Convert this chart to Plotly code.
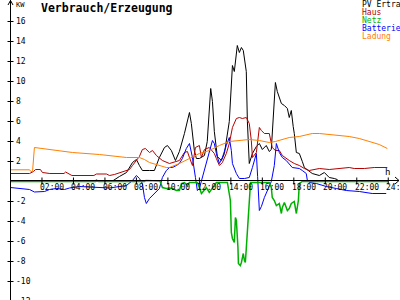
import plotly.graph_objects as go

# ---------------- data (hours of day, kW) ----------------
pv_t = [0.00, 6.29, 6.48, 6.92, 7.37, 7.75, 8.00, 8.19, 8.38, 8.83, 9.14, 9.46, 9.78, 9.97, 10.22, 10.48,
        10.73, 11.05, 11.24, 11.37, 11.49, 11.56, 11.68, 11.81, 12.00, 12.32, 12.50, 12.72, 12.83, 12.95,
        13.14, 13.40, 13.59, 13.90, 14.03, 14.10, 14.22, 14.41, 14.54, 14.67, 14.79, 14.98, 15.05, 15.17,
        15.37, 15.62, 15.81, 16.00, 16.25, 16.44, 16.57, 16.70, 16.83, 16.95, 17.08, 17.21, 17.40, 17.59,
        17.71, 17.84, 17.96, 18.03, 18.16, 18.35, 18.54, 18.67, 19.17, 19.62, 19.94, 20.25, 20.57, 20.76, 20.80]
pv_v = [0.0, 0.0, 0.05, 0.5, 0.9, 1.9, 2.2, 1.6, 1.1, 1.1, 1.1, 2.4, 3.4, 3.6, 3.1, 2.1,
        3.0, 4.8, 6.1, 6.9, 5.8, 4.8, 3.1, 2.3, 2.3, 2.6, 4.0, 9.3, 8.0, 5.0,
        2.5, 2.1, 2.8, 6.0, 9.0, 11.6, 11.0, 13.6, 12.9, 13.4, 13.1, 11.0, 6.0, 1.8,
        2.8, 3.5, 3.8, 3.2, 3.6, 3.0, 3.2, 7.0, 9.9, 9.0, 8.4, 7.8, 7.6, 7.3,
        6.4, 7.1, 5.5, 4.8, 2.9, 2.8, 2.0, 1.4, 0.8, 0.6, 0.9, 0.4, 0.3, 0.2, 0.0]

haus_t = [0.00, 1.21, 1.46, 1.59, 1.90, 2.03, 2.50, 3.40, 3.50, 3.65, 3.90, 5.30, 5.46, 6.10, 6.29, 6.60,
          7.10, 7.56, 7.75, 8.19, 8.38, 8.57, 8.83, 9.02, 9.27, 9.65, 10.10, 10.73, 11.05, 11.24, 11.37,
          11.56, 11.75, 12.00, 12.13, 12.32, 12.63, 12.95, 13.08, 13.27, 13.46, 13.71, 13.90, 14.10, 14.35,
          14.54, 14.73, 14.98, 15.17, 15.30, 15.37, 15.62, 15.81, 15.94, 16.13, 16.44, 16.63, 16.83, 17.08,
          17.27, 17.71, 18.03, 18.35, 18.67, 18.98, 19.62, 20.25, 20.89, 21.52, 21.84, 22.48, 23.11, 23.94]
haus_v = [0.8, 0.8, 1.0, 1.2, 1.2, 0.9, 0.8, 0.8, 0.95, 0.8, 0.6, 0.6, 0.75, 0.75, 0.6, 0.7,
          1.0, 1.2, 1.6, 2.5, 3.2, 3.3, 2.9, 3.1, 2.6, 2.1, 1.8, 2.1, 2.9, 3.0, 2.4,
          1.6, 3.4, 3.6, 2.4, 3.2, 3.4, 2.8, 2.3, 1.6, 1.9, 2.8, 3.8, 5.4, 6.3,
          6.4, 6.3, 6.4, 5.8, 4.1, 2.4, 2.9, 5.4, 5.1, 4.8, 4.8, 3.4, 3.1, 3.1,
          2.6, 2.1, 1.8, 1.6, 1.3, 1.1, 1.3, 1.2, 1.3, 1.4, 1.3, 1.3, 1.4, 1.4]

netz_t = [0.00, 5.40, 5.46, 5.60, 8.50, 8.60, 9.50, 9.65, 9.90, 10.10, 10.29, 10.54, 10.73, 10.86, 11.05,
          11.24, 11.37, 11.87, 12.00, 12.13, 12.19, 12.44, 12.63, 12.76, 12.95, 13.08, 13.78, 13.86, 13.97,
          14.03, 14.10, 14.22, 14.29, 14.35, 14.41, 14.45, 14.48, 14.60, 14.67, 14.73, 14.79, 14.86, 14.92,
          14.98, 15.05, 15.11, 15.17, 15.25, 16.44, 16.57, 16.63, 16.76, 16.89, 17.08, 17.21, 17.27, 17.40,
          17.52, 17.59, 17.71, 17.84, 18.03, 18.10, 18.16, 18.22, 18.29, 18.35, 18.54, 24.00]
netz_v = [0.0, 0.0, 0.15, 0.0, 0.0, 0.1, 0.05, -0.6, -0.7, -0.65, -0.7, -0.9, -0.9, -0.2, -0.1,
          -0.4, -0.1, -0.1, -0.6, -1.2, -1.1, -0.6, -1.1, -0.8, -0.4, -0.1, -0.1, -0.9, -1.9,
          -5.1, -5.7, -6.1, -3.6, -3.9, -5.2, -6.6, -8.2, -8.4, -8.1, -7.4, -7.2, -7.9, -8.1,
          -6.7, -5.2, -4.1, -1.9, -0.1, -0.1, -0.6, -1.6, -1.9, -2.4, -2.2, -3.2, -2.6, -2.1,
          -2.6, -2.9, -2.7, -2.2, -2.0, -2.9, -3.2, -2.6, -1.9, -0.2, 0.0, 0.0]

batt_t = [0.00, 0.57, 1.21, 1.52, 2.16, 2.48, 2.92, 3.43, 3.75, 4.38, 5.65, 6.29, 6.92, 7.37, 7.75, 8.00,
          8.19, 8.38, 8.51, 8.63, 8.83, 9.14, 9.46, 9.65, 9.90, 10.10, 10.29, 10.54, 10.73, 10.92, 11.17,
          11.37, 11.56, 11.75, 11.87, 12.00, 12.19, 12.44, 12.63, 12.83, 12.95, 13.08, 13.27, 13.46, 13.71,
          13.90, 14.03, 14.10, 14.35, 14.54, 14.86, 15.17, 15.37, 15.62, 15.70, 15.81, 15.94, 16.13, 16.57,
          16.76, 16.89, 17.08, 17.27, 17.52, 17.90, 18.35, 18.54, 18.79, 18.86, 18.98, 19.43, 20.06, 20.70,
          21.33, 22.16, 22.98, 23.87]
batt_v = [-0.6, -0.7, -0.8, -1.05, -1.0, -0.8, -0.7, -0.8, -0.65, -0.5, -0.6, -0.65, -0.5, -0.4, 0.1, 0.6,
          0.3, -0.2, -1.6, -2.2, -1.7, -1.2, -0.7, 0.4, 1.1, 1.4, 1.4, 1.6, 1.8, 2.3, 3.3,
          3.8, 2.4, 0.4, -0.9, -0.7, 0.4, 1.9, 3.1, 4.1, 3.8, 2.8, 1.8, 2.4, 3.6,
          4.4, 3.1, 1.8, 0.8, 0.3, 0.3, 0.4, 1.4, 2.8, 0.5, -2.9, -2.5, -1.6, 0.0,
          1.6, 3.8, 2.9, 2.4, 2.1, 1.4, 1.3, 1.1, 0.8, 0.1, -0.1, -0.2, -0.5, -0.7,
          -0.9, -1.0, -1.2, -1.2]

ladung_t = [0.00, 1.21, 1.30, 1.40, 1.52, 2.48, 3.94, 5.65, 7.37, 8.19, 8.51, 8.83, 9.46, 9.90, 10.10,
            10.73, 11.37, 12.00, 12.63, 13.27, 13.90, 14.54, 15.17, 15.81, 16.44, 16.83, 17.08, 17.71,
            18.35, 19.17, 19.62, 20.25, 20.89, 21.52, 22.16, 22.79, 23.43, 23.94]
ladung_v = [1.17, 1.17, 1.0, 1.0, 3.4, 3.2, 2.9, 2.7, 2.4, 2.4, 2.2, 1.9, 1.6, 1.4, 1.4,
            1.8, 2.3, 2.8, 3.1, 3.6, 4.0, 4.1, 4.2, 4.1, 3.9, 4.0, 4.1, 4.4,
            4.5, 4.8, 4.8, 4.7, 4.6, 4.5, 4.3, 4.0, 3.7, 3.3]

series_names = ["PV Ertra", "Haus", "Netz", "Batterie", "Ladung"]
series_colors = ["#000000", "#b40000", "#00b000", "#0000ff", "#ff8000"]
series_widths = [1, 1, 1.5, 1, 1]

x_tick_vals = [2, 4, 6, 8, 10, 12, 14, 16, 18, 20, 22, 24]
x_tick_text = ["02:00", "04:00", "06:00", "08:00", "10:00", "12:00", "14:00", "16:00", "18:00",
               "20:00", "22:00", "24:00"]
y_tick_vals = [16, 14, 12, 10, 8, 6, 4, 2, -2, -4, -6, -8, -10, -12]
title_text = "Verbrauch/Erzeugung"
y_unit = "KW"
x_unit = "h"

# ---------------- layout geometry ----------------
W, H = 400, 300
X0_PX, X_SCALE = 10.5, 15.74      # pixel of hour 0, px per hour
Y0_PX, Y_SCALE = 181.5, 10.0      # pixel of 0 kW, px per kW
x_range = [(0 - X0_PX) / X_SCALE, (W - X0_PX) / X_SCALE]
y_range = [(Y0_PX - H) / Y_SCALE, (Y0_PX - 0) / Y_SCALE]

def hx(px):  # pixel -> hours
    return (px - X0_PX) / X_SCALE

def vy(py):  # pixel -> kW
    return (Y0_PX - py) / Y_SCALE

fig = go.Figure()
data = {0: (pv_t, pv_v), 1: (haus_t, haus_v), 2: (netz_t, netz_v), 3: (batt_t, batt_v), 4: (ladung_t, ladung_v)}
for k in [0, 1, 3, 4, 2]:
    t, v = data[k]
    fig.add_trace(go.Scatter(x=t, y=v, mode="lines", name=series_names[k],
                             line=dict(color=series_colors[k], width=series_widths[k], shape="linear"),
                             hoverinfo="skip"))

shapes = []
line_style = dict(color="#000000", width=1)
shapes.append(dict(type="line", xref="x", yref="y", x0=0, x1=0, y0=y_range[0], y1=y_range[1], line=line_style))
shapes.append(dict(type="line", xref="x", yref="y", x0=0, x1=hx(399), y0=vy(180.5), y1=vy(180.5), line=line_style))
shapes.append(dict(type="path", xref="x", yref="y",
                   path=f"M {hx(8)},{vy(5)} L 0,{vy(0.5)} L {hx(13)},{vy(5)}", line=line_style))
shapes.append(dict(type="path", xref="x", yref="y",
                   path=f"M {hx(395)},{vy(177)} L {hx(399)},{vy(180.5)} L {hx(395)},{vy(184)}", line=line_style))
for tv in y_tick_vals:
    shapes.append(dict(type="line", xref="x", yref="y", x0=hx(7.5), x1=hx(13.5), y0=tv, y1=tv, line=line_style))
for tv in x_tick_vals:
    shapes.append(dict(type="line", xref="x", yref="y", x0=tv, x1=tv, y0=vy(177.5), y1=vy(184.5), line=line_style))

annotations = []
mono = "DejaVu Sans Mono"

def note(xp, yp, text, size, color="#000000"):
    annotations.append(dict(x=xp / W, y=1 - yp / H, xref="paper", yref="paper", text=text,
                            showarrow=False, xanchor="left", yanchor="middle",
                            font=dict(family=mono, size=size, color=color)))

for tv, tt in zip(x_tick_vals, x_tick_text):
    note(X0_PX + tv * X_SCALE - 4, 187.5, tt, 8)
for tv in y_tick_vals:
    note(14, Y0_PX - tv * Y_SCALE, str(tv), 8)
note(13.5, 5, y_unit, 7)
note(383, 171.5, x_unit, 9)
note(39, 7.5, f"<b>{title_text}</b>", 11.5)
legend_rows = [4.5, 12.5, 20.5, 28.5, 36.5]
for name, col, ry in zip(series_names, series_colors, legend_rows):
    note(359.5, ry, name, 8, col)

fig.update_layout(
    width=W, height=H, margin=dict(l=0, r=0, t=0, b=0),
    paper_bgcolor="#ffffff", plot_bgcolor="#ffffff", showlegend=False,
    xaxis=dict(range=x_range, visible=False, showgrid=False, zeroline=False, fixedrange=True),
    yaxis=dict(range=y_range, visible=False, showgrid=False, zeroline=False, fixedrange=True),
    shapes=shapes, annotations=annotations,
)
fig.write_html("out.html")
